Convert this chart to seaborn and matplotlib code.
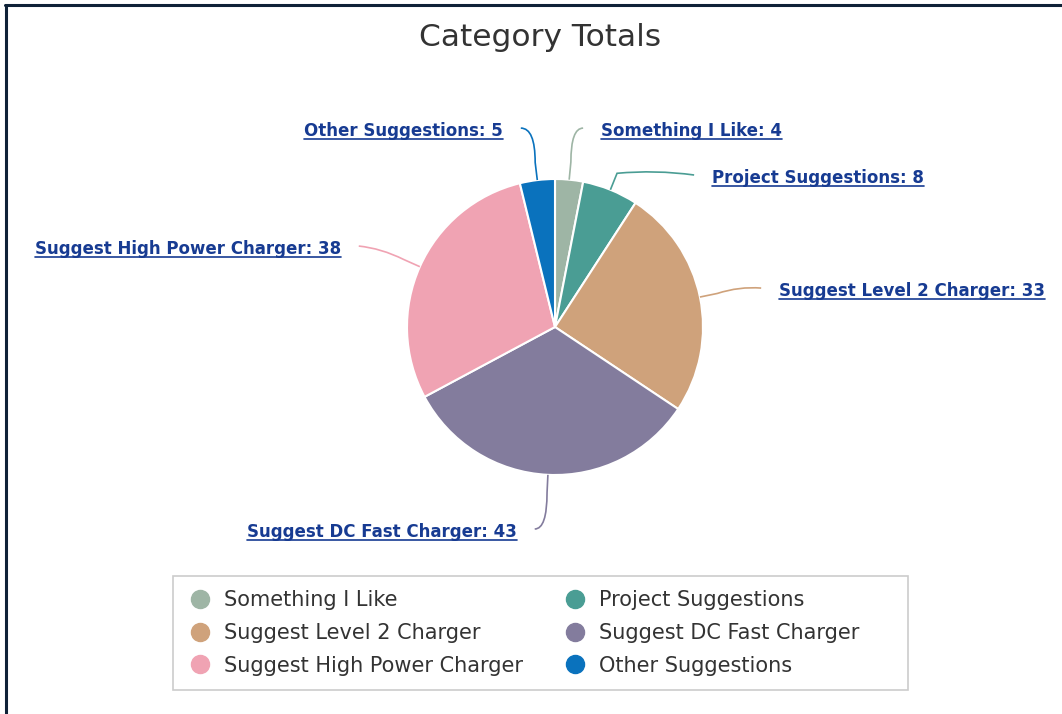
import numpy as np
import matplotlib
matplotlib.use("Agg")
import matplotlib.pyplot as plt
import seaborn as sns
from matplotlib.lines import Line2D
from matplotlib.path import Path
from matplotlib.patches import PathPatch, Rectangle

categories = ["Something I Like", "Project Suggestions", "Suggest Level 2 Charger",
              "Suggest DC Fast Charger", "Suggest High Power Charger", "Other Suggestions"]
counts = [4, 8, 33, 43, 38, 5]
colors = ["#9eb5a5", "#4a9d94", "#cfa27b", "#837c9d", "#f0a3b3", "#0a72bd"]

# label anchor positions (pie radius = 1), and alignment
label_pos = [(0.31, 1.324), (1.06, 1.007), (1.513, 0.243),
             (-0.257, -1.385), (-1.446, 0.527), (-0.351, 1.324)]
label_ha = ["left", "left", "left", "right", "right", "right"]

sns.set_theme(style="white")
plt.rcParams['font.family'] = ['DejaVu Sans']

W, H = 1062, 714
R = 148.0
cx, cy = 555, 327

fig = plt.figure(figsize=(W / 100, H / 100), dpi=100)
ax = fig.add_axes([0, 0, 1, 1])

pal = sns.color_palette(colors)
wedges, _ = ax.pie(counts, colors=pal, startangle=90, counterclock=False, radius=1,
                   wedgeprops=dict(edgecolor="white", linewidth=1.5))
ax.set_xlim(-cx / R, (W - cx) / R)
ax.set_ylim(-(H - cy) / R, cy / R)
ax.set_aspect("equal")
ax.axis("off")

total = sum(counts)
texts = []
start = 0.0
for i, (cat, v) in enumerate(zip(categories, counts)):
    mid = start + v / total * 360 / 2
    start += v / total * 360
    th = np.deg2rad(mid)
    rim = np.array([np.sin(th), np.cos(th)])
    brk = rim * 1.12
    lx, ly = label_pos[i]
    gap = 0.12 if label_ha[i] == "left" else -0.12
    end = np.array([lx - gap, ly + 0.02])
    if abs(rim[0]) < 0.2:
        ctrl = np.array([brk[0], end[1]])
    else:
        ctrl = (brk + end) / 2 + np.array([0, 0.03])
    path = Path([rim, brk, ctrl, end], [Path.MOVETO, Path.LINETO, Path.CURVE3, Path.CURVE3])
    ax.add_patch(PathPatch(path, fill=False, edgecolor=pal[i], lw=1.2))
    t = ax.text(lx, ly, f"{cat}: {v}", ha=label_ha[i], va="center", fontsize=12,
                fontweight="bold", color="#173b92")
    texts.append(t)

fig.text(0.509, 1 - 38 / H, "Category Totals", ha="center", va="center",
         fontsize=22.5, color="#333333")

handles = [Line2D([], [], marker="o", linestyle="", markersize=13,
                  markerfacecolor=c, markeredgecolor=c) for c in pal]
order = [0, 2, 4, 1, 3, 5]
leg = fig.legend([handles[i] for i in order], [categories[i] for i in order],
                 ncol=2, loc="center", bbox_to_anchor=(521 / W, 1 - 633 / H),
                 fontsize=15, frameon=False,
                 handletextpad=0.35, handlelength=1.6, columnspacing=1.7,
                 labelspacing=0.6, borderpad=0)
for txt in leg.get_texts():
    txt.set_color("#333333")

# legend box
fig.add_artist(Rectangle((173 / W, 1 - 690 / H), 735 / W, 114 / H, fill=False,
                         edgecolor="#cccccc", lw=1.2, transform=fig.transFigure))

# underline the data labels
fig.canvas.draw()
renderer = fig.canvas.get_renderer()
for t in texts:
    bb = t.get_window_extent(renderer)
    y = (bb.y0 + 1) / H
    fig.add_artist(Line2D([bb.x0 / W, bb.x1 / W], [y, y], color="#173b92", lw=1.2))

# page border (top and left)
fig.add_artist(Line2D([5 / W, 1], [1 - 5 / H, 1 - 5 / H], color="#0f2238", lw=2.2))
fig.add_artist(Line2D([6 / W, 6 / W], [0, 1 - 5 / H], color="#0f2238", lw=2.2))

fig.savefig("out.png", dpi=100)
